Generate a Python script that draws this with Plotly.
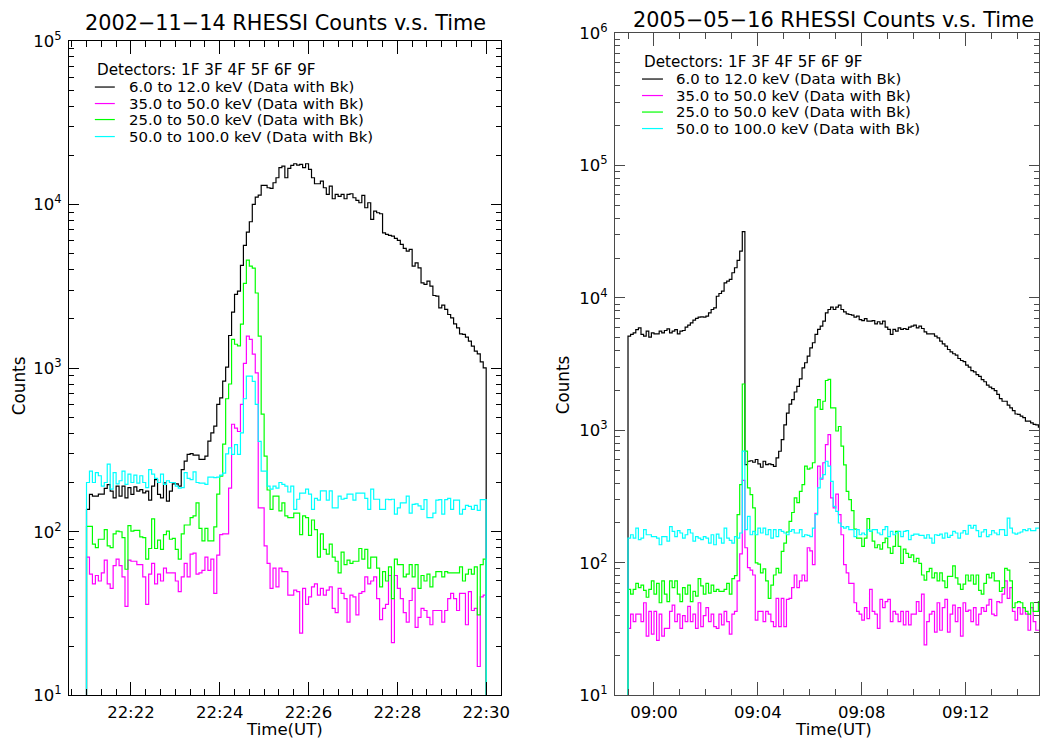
import plotly.graph_objects as go
import pandas as pd

W, H = 1049, 745
# The photographed page comes out slightly shrunk (about 0.993 horizontally,
# 0.97 vertically, shifted 11px down), so layout positions are given in
# reference-picture pixels and converted back to page pixels.
SX, SY, OY = 0.993, 0.97, 11.0

# ---------------- data ----------------
left_title = "2002\u221211\u221214 RHESSI Counts v.s. Time"
right_title = "2005\u221205\u221216 RHESSI Counts v.s. Time"
detectors_text = "Detectors: 1F 3F 4F 5F 6F 9F"
band_labels = ["6.0 to 12.0 keV (Data with Bk)",
               "35.0 to 50.0 keV (Data with Bk)",
               "25.0 to 50.0 keV (Data with Bk)",
               "50.0 to 100.0 keV (Data with Bk)"]
band_colors = ["#000000", "#ff00ff", "#00ff00", "#00ffff"]

left_start = "2002-11-14 22:21:00"
left_bin_seconds = 4
right_start = "2005-05-16 08:59:00"
right_bin_seconds = 6

left_black = [137, 169, 165, 165, 170, 170, 184, 194, 177, 161,
              190, 165, 190, 161, 186, 169, 188, 177, 181, 173,
              177, 156, 190, 208, 169, 161, 199, 154, 177, 196,
              196, 190, 240, 270, 297, 300, 294, 294, 277, 277,
              290, 358, 402, 442, 600,
              658, 833, 1014, 1584, 2200, 2822, 2958, 4246, 5627, 6789,
              7852, 10024, 11115, 11433, 13101, 13101, 12673, 12557, 13598, 14590,
              16802, 17200, 14590, 16650, 17360, 17770, 17440, 17610, 16802, 17770,
              16410, 14590, 13410, 13410, 13920, 12673, 11540, 12980, 10860, 11540,
              11220, 11540, 10860, 11540, 11650, 11010, 10600, 10260, 11380, 9563,
              10260, 8115, 9125, 8913, 8789, 6725, 6570, 6478, 6418, 6210,
              6037, 5706, 5395, 5195, 5318, 4206, 4408, 4108, 3326, 3249,
              3405, 3173, 2782, 2756, 2339, 2428, 2285, 2129, 2032, 1867,
              1765, 1622, 1607, 1547, 1463, 1363, 1270, 1223, 1093, 1005]

left_magenta = [70, 55, 48, 54, 50, 56, 67, 48, 45, 62,
                68, 62, 53, 35, 67, 66, 66, 63, 63, 53,
                36, 55, 64, 48, 55, 50, 60, 56, 56, 56,
                50, 43, 53, 64, 53, 73, 74, 55, 56, 58,
                70, 58, 68, 42, 72, 96, 97, 97, 185, 454,
                430, 410, 600,
                1070, 1570, 1500, 1220, 935, 140, 140, 82, 64, 45, 60, 46,
                60, 57, 57, 41, 41, 44, 43, 24, 45, 36,
                40, 46, 48, 41, 45, 41, 44, 46, 34, 32,
                45, 42, 39, 28, 41, 40, 31, 42, 43, 53,
                48, 50, 53, 39, 29, 34, 36, 54, 21, 54,
                45, 39, 32, 28, 38, 45, 26, 30, 34, 33,
                30, 27, 33, 33, 33, 28, 33, 39, 42, 39,
                33, 42, 42, 27, 43, 33, 34, 15, 40, 41]

left_green = [108, 108, 84, 80, 90, 90, 103, 82, 80, 97,
              101, 100, 92, 59, 109, 101, 102, 102, 93, 92,
              68, 79, 120, 79, 89, 78, 96, 101, 90, 91,
              78, 68, 97, 110, 110, 122, 125, 150, 105, 88,
              105, 88, 88, 107, 170, 219, 343, 650, 800,
              1500, 1400, 1370, 1860, 3300, 4570, 4200, 4090, 2880, 1570,
              524, 290, 180, 137, 165, 165, 134, 150, 125, 122,
              122, 130, 130, 96,
              125, 122, 95, 118, 103, 70, 97, 78, 73, 84,
              70, 66, 56, 75, 63, 67, 64, 66, 66, 79,
              68, 78, 60, 70, 70, 60, 46, 57, 50, 61,
              39, 68, 63, 63, 53, 55, 63, 53, 63, 45,
              54, 50, 55, 46, 53, 57, 57, 53, 57, 56,
              56, 56, 56, 61, 50, 55, 59, 55, 61, 31,
              63, 68]

left_cyan = [200, 235, 200, 230, 220, 190, 200, 259, 182, 230,
             196, 205, 235, 195, 225, 200, 222, 198, 220, 200,
             186, 240, 225, 212, 200, 225, 195, 205, 200, 200,
             190, 185, 186, 230, 212, 208, 232, 200, 198, 198,
             195, 216, 216, 214, 216, 222, 228, 299, 326, 297,
             341, 297, 402, 650,
             893, 893, 830, 600, 357, 235, 235, 190, 182, 190, 185, 200,
             195, 190, 175, 190, 137, 158, 172, 172, 182, 170,
             137, 160, 156, 178, 178, 156, 178, 140, 140, 165,
             158, 160, 170, 170, 156, 172, 172, 172, 160, 137,
             182, 158, 158, 137, 137, 158, 157, 158, 128, 140,
             150, 150, 165, 130, 147, 148, 144, 137, 157, 122,
             122, 130, 156, 157, 128, 157, 160, 137, 156, 156,
             128, 137, 145, 143, 137, 145, 135, 157, 157]

right_black = [5150, 5300, 5440, 5760, 5950, 5300, 5150, 5620, 5060, 5440,
               5360, 5360, 5620, 5440, 5680, 5850, 5440, 5620, 5760, 5360,
               5620, 5680, 6020, 6230, 6490, 6800, 7000, 7160, 7200, 7160,
               7280, 7720, 8180, 8420, 10300, 10800, 11250, 13000, 13400, 13800,
               15500, 16900, 19200, 22600, 31700,
               552, 585, 590, 575, 603, 559, 527, 585, 552, 559,
               552, 536, 620, 696, 853, 1100, 1350, 1580, 1710, 1950,
               2150, 2450,
               2970, 3240, 3640, 4200, 4590, 5300, 5780, 6120, 6680, 7720,
               8180, 8520, 8180, 8520, 8820, 8180, 7860, 7590, 7500, 7410,
               7160, 7280, 6870, 6750, 6990, 6680, 6680, 6750, 6380, 6610,
               6380, 6680, 6020, 5780, 5300, 5780, 5620, 5950, 5780, 5880,
               5780, 6020, 6120, 6230, 5950, 6120, 5880, 5550, 5360, 5360,
               5360, 5150, 5000, 4720, 4500, 4320, 4080, 3920, 3790, 3700,
               3490, 3370, 3300, 3110, 3000, 2830, 2770, 2640, 2560, 2420,
               2330, 2200, 2120, 2070, 2000, 1870, 1740, 1660, 1660, 1550,
               1480, 1410, 1330, 1320, 1280, 1250, 1175, 1175, 1140, 1110,
               1100, 1060, 1020]

right_magenta = [32, 41, 36, 41, 41, 36, 50, 28, 43, 29,
                 43, 26, 41, 28, 32, 32, 43, 48, 36, 41,
                 32, 40, 36, 47, 36, 41, 32, 50, 33, 40,
                 46, 36, 41, 33, 32, 41, 34, 43, 36, 29,
                 41, 43, 73, 117, 420,
                 130, 92, 88, 81, 37, 43, 43, 36, 43, 41,
                 36, 33, 54, 33, 54, 33, 53, 54, 65, 81,
                 65, 73, 81, 73, 130, 123, 97, 237, 537, 428,
                 570, 780, 930, 310, 260, 330,
                 231, 163, 97, 84, 70, 70, 50, 43, 41, 37,
                 46, 38, 63, 43, 41, 32, 53, 46, 51, 53,
                 36, 43, 41, 36, 43, 34, 43, 34, 41, 41,
                 51, 43, 58, 24, 36, 41, 43, 30, 50, 31,
                 46, 53, 30, 41, 48, 36, 46, 28, 50, 43,
                 44, 36, 46, 34, 41, 46, 43, 48, 53, 41,
                 40, 51, 50, 58, 73, 54, 65, 43, 37, 46,
                 41, 46, 41, 31, 46, 36, 31, 31, 23]

right_green = [63, 58, 63, 70, 65, 68, 62, 55, 63, 73,
               58, 70, 50, 73, 58, 51, 73, 65, 73, 58,
               51, 65, 58, 68, 51, 61, 56, 76, 67, 58,
               70, 59, 68, 61, 63, 61, 61, 63, 70, 58,
               76, 80, 231, 390, 2240,
               697, 368, 328, 260, 100, 98, 84, 90, 73, 54,
               68, 81, 91, 84, 122, 141, 171, 206, 240, 310,
               285, 346, 390, 537, 510, 520, 570, 1500, 1710, 1440,
               1660, 2380, 2430, 1480, 1480, 990, 1070, 760, 550,
               347, 300, 248, 180, 154, 154, 133, 154, 216, 173,
               146, 130, 137, 127, 142, 154, 130, 118, 133, 173,
               133, 99, 127, 118, 110, 115, 102, 108, 99, 81,
               74, 86, 91, 77, 84, 73, 84, 73, 65, 79,
               79, 95, 77, 69, 63, 69, 81, 73, 81, 69,
               81, 62, 58, 70, 82, 77, 84, 73, 73, 61,
               65, 91, 88, 73, 46, 50, 51, 50, 46, 43,
               41, 50, 43, 43, 51, 30]

right_cyan = [154, 163, 154, 183, 150, 154, 178, 163, 163, 158,
              158, 154, 137, 158, 158, 146, 188, 173, 158, 175,
              168, 154, 163, 178, 168, 146, 158, 154, 150, 158,
              154, 141, 163, 137, 165, 154, 141, 183, 154, 148,
              141, 158, 154, 168, 697,
              178, 224, 163, 173, 163, 183, 168, 183, 163, 178,
              154, 178, 158, 178, 173, 168, 163, 173, 178, 168,
              168, 178, 158, 163, 161, 158, 183, 231, 368, 437,
              463, 585, 537, 413, 267, 245,
              200, 188, 183, 188, 178, 178, 158, 178, 163, 168,
              163, 178, 173, 178, 178, 168, 163, 178, 188, 158,
              173, 163, 168, 173, 158, 173, 175, 150, 161, 165,
              165, 161, 161, 154, 163, 154, 141, 163, 161, 165,
              154, 168, 156, 161, 173, 168, 154, 168, 175, 165,
              192, 183, 192, 175, 158, 171, 178, 158, 163, 175,
              168, 163, 178, 178, 161, 218, 183, 168, 165, 168,
              171, 178, 175, 181, 175, 175, 183, 183, 183]

FLOOR = 1.0

left_series = [left_black, left_magenta, left_green, left_cyan]
right_series = [right_black, right_magenta, right_green, right_cyan]

left_ytickvals = [1e1, 1e2, 1e3, 1e4, 1e5]
left_yticktext = ["10<sup>1</sup>", "10<sup>2</sup>", "10<sup>3</sup>", "10<sup>4</sup>", "10<sup>5</sup>"]
right_ytickvals = [1e1, 1e2, 1e3, 1e4, 1e5, 1e6]
right_yticktext = ["10<sup>1</sup>", "10<sup>2</sup>", "10<sup>3</sup>", "10<sup>4</sup>", "10<sup>5</sup>", "10<sup>6</sup>"]

# ---------------- helpers ----------------
def px(x_ref):
    return min(1.0, max(0.0, (x_ref / SX) / W))

def py(y_ref):
    return min(1.0, max(0.0, 1 - ((y_ref - OY) / SY) / H))

def step_xy(start, bin_s, counts):
    t0 = pd.Timestamp(start)
    edges = [t0 + pd.Timedelta(seconds=bin_s * i) for i in range(len(counts) + 1)]
    xs = [edges[0]] + edges + [edges[-1]]
    ys = [FLOOR] + list(counts) + [counts[-1], FLOOR]
    xs = [t.strftime("%Y-%m-%d %H:%M:%S") for t in xs]
    return xs, ys

def minor_log(lo, hi):
    return [m * 10 ** k for k in range(lo, hi) for m in range(2, 10)]

fig = go.Figure()

for series, xa, ya, start, bs in [(left_series, "x", "y", left_start, left_bin_seconds),
                                  (right_series, "x2", "y2", right_start, right_bin_seconds)]:
    for counts, color, name in zip(series, band_colors, band_labels):
        xs, ys = step_xy(start, bs, counts)
        fig.add_trace(go.Scatter(x=xs, y=ys, mode="lines", name=name,
                                 line=dict(color=color, width=1.2, shape="hv"),
                                 xaxis=xa, yaxis=ya, showlegend=False,
                                 hoverinfo="skip"))

FONT = "DejaVu Sans, Verdana, sans-serif"
AX_L = "#000000"
AX_R = "#4a4a4a"
TICK_FS = 16.5

def x_axis(color):
    return dict(type="date", showline=True, linecolor=color, linewidth=1, mirror="ticks",
                ticks="inside", ticklen=13.4, tickwidth=1, tickcolor=color,
                tickformat="%H:%M", showgrid=False, zeroline=False,
                tickfont=dict(size=TICK_FS, color="black"), ticklabelstandoff=2)

def y_axis(color):
    return dict(type="log", showline=True, linecolor=color, linewidth=1, mirror="ticks",
                ticks="inside", ticklen=10, tickwidth=1, tickcolor=color,
                showgrid=False, zeroline=False, tickmode="array",
                tickfont=dict(size=TICK_FS, color="black"), ticklabelstandoff=3)

fig.update_layout(
    width=W, height=H, margin=dict(l=0, r=0, t=0, b=0),
    paper_bgcolor="white", plot_bgcolor="white", showlegend=False,
    font=dict(family=FONT, size=TICK_FS, color="black"),
    xaxis=dict(x_axis(AX_L), domain=[px(69), px(502)], anchor="y",
               range=["2002-11-14 22:20:36.2", "2002-11-14 22:30:20.3"],
               dtick=120000, tick0="2002-11-14 22:00:00",
               minor=dict(dtick=20000, tick0="2002-11-14 22:00:00", ticks="inside",
                          ticklen=6.2, tickcolor=AX_L, showgrid=False)),
    yaxis=dict(y_axis(AX_L), domain=[py(694), py(40)], anchor="x", range=[1, 5],
               tickvals=left_ytickvals, ticktext=left_yticktext,
               minor=dict(tickmode="array", tickvals=minor_log(1, 5), ticks="inside",
                          ticklen=5, tickcolor=AX_L, showgrid=False)),
    xaxis2=dict(x_axis(AX_R), domain=[px(616), 1048 / W], anchor="y2",
                range=["2005-05-16 08:58:30", "2005-05-16 09:14:49.4"],
                dtick=240000, tick0="2005-05-16 09:00:00",
                minor=dict(dtick=60000, tick0="2005-05-16 09:00:00", ticks="inside",
                           ticklen=6.2, tickcolor=AX_R, showgrid=False)),
    yaxis2=dict(y_axis(AX_R), domain=[py(694), py(32)], anchor="x2", range=[1, 6],
                tickvals=right_ytickvals, ticktext=right_yticktext,
                minor=dict(tickmode="array", tickvals=minor_log(1, 6), ticks="inside",
                           ticklen=5, tickcolor=AX_R, showgrid=False)),
)

ann = []
ann.append(dict(text=left_title, x=px(286), y=py(22), font=dict(size=20.8)))
ann.append(dict(text=right_title, x=px(835), y=py(18.8), font=dict(size=20.8)))
for xc in (285, 835):
    ann.append(dict(text="Time(UT)", x=px(xc), y=py(728), font=dict(size=16.6)))
for xc in (19, 564):
    ann.append(dict(text="Counts", x=px(xc), y=py(384), textangle=-90, font=dict(size=16.8)))

shapes = []
for (lx0, lx1, tx, det_y, rows) in [(95, 115, 127, 69, [86, 102.5, 118.5, 135.5]),
                                     (643, 664, 675, 61, [78, 94.5, 111, 127.5])]:
    ann.append(dict(text=detectors_text, x=px(lx0), y=py(det_y), xanchor="left",
                    font=dict(size=15.2)))
    for ry, label, color in zip(rows, band_labels, band_colors):
        ann.append(dict(text=label, x=px(tx), y=py(ry), xanchor="left", font=dict(size=14.9)))
        shapes.append(dict(type="line", xref="paper", yref="paper",
                           x0=px(lx0), x1=px(lx1), y0=py(ry), y1=py(ry),
                           line=dict(color=color, width=1.2)))

for a in ann:
    a.setdefault("xref", "paper")
    a.setdefault("yref", "paper")
    a.setdefault("showarrow", False)
    a.setdefault("xanchor", "center")
    a.setdefault("yanchor", "middle")

fig.update_layout(annotations=ann, shapes=shapes)

fig.write_html("out.html", config={"displayModeBar": False},
               post_script="document.body.style.margin='0px';document.body.style.overflow='hidden';")
